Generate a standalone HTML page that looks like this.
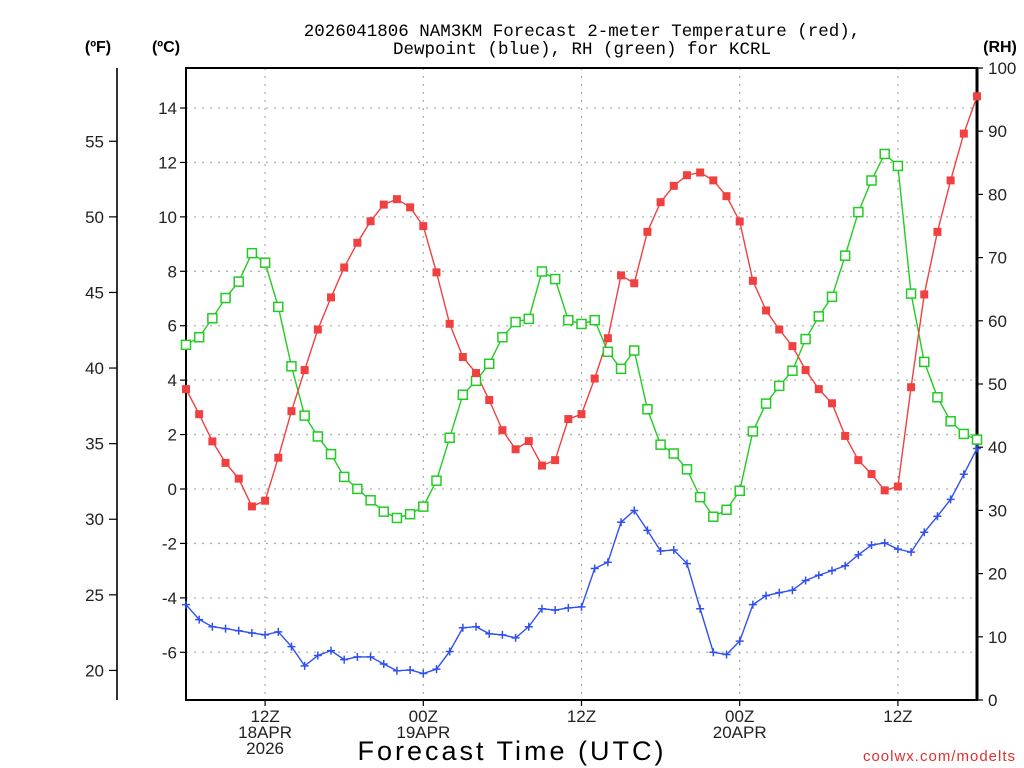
<!DOCTYPE html>
<html><head><meta charset="utf-8"><style>
html,body{margin:0;padding:0;background:#fff;}
svg{display:block;font-family:"Liberation Sans","DejaVu Sans",sans-serif;}
</style></head><body>
<svg id="chart" width="1024" height="768" viewBox="0 0 1024 768" xmlns="http://www.w3.org/2000/svg">
<rect width="1024" height="768" fill="#fff"/>
<text x="582" y="36" text-anchor="middle" font-size="17.5" font-family="Liberation Mono, monospace" fill="#000">2026041806 NAM3KM Forecast 2-meter Temperature (red),</text>
<text x="582" y="54" text-anchor="middle" font-size="17.5" font-family="Liberation Mono, monospace" fill="#000">Dewpoint (blue), RH (green) for KCRL</text>
<text x="98" y="52" text-anchor="middle" font-size="16" font-weight="bold">(ºF)</text>
<text x="166" y="52" text-anchor="middle" font-size="16" font-weight="bold">(ºC)</text>
<text x="1000" y="52" text-anchor="middle" font-size="16" font-weight="bold">(RH)</text>
<text x="512" y="760" text-anchor="middle" font-size="27" letter-spacing="3">Forecast Time (UTC)</text>
<text x="1016" y="761" text-anchor="end" font-size="15" fill="#e03030" letter-spacing="1">coolwx.com/modelts</text>
<g id="grid"></g>
<g id="axes"></g>
<g id="series"></g>
</svg>
<script>
const hours = 61;
const xLabels = [["12Z","18APR","2026"],["00Z","19APR"],["12Z"],["00Z","20APR"],["12Z"]];
const xLabelHours = [6,18,30,42,54];
const cTicks = [-6,-4,-2,0,2,4,6,8,10,12,14];
const fTicks = [20,25,30,35,40,45,50,55];
const rhTicks = [0,10,20,30,40,50,60,70,80,90,100];
const tempC = [3.67,2.75,1.75,0.96,0.38,-0.64,-0.43,1.15,2.86,4.37,5.86,7.04,8.14,9.05,9.84,10.45,10.65,10.35,9.66,7.96,6.07,4.85,4.26,3.27,2.16,1.46,1.76,0.86,1.06,2.57,2.75,4.06,5.54,7.85,7.56,9.45,10.54,11.14,11.53,11.63,11.34,10.76,9.83,7.65,6.56,5.86,5.25,4.37,3.67,3.15,1.95,1.06,0.55,-0.05,0.09,3.74,7.15,9.45,11.34,13.06,14.43];
const dewC = [-4.25,-4.80,-5.06,-5.13,-5.21,-5.29,-5.36,-5.25,-5.79,-6.50,-6.12,-5.94,-6.27,-6.17,-6.17,-6.43,-6.68,-6.65,-6.78,-6.62,-5.97,-5.10,-5.06,-5.32,-5.36,-5.47,-5.06,-4.40,-4.45,-4.37,-4.33,-2.92,-2.69,-1.22,-0.79,-1.52,-2.28,-2.24,-2.74,-4.40,-6.00,-6.08,-5.59,-4.25,-3.92,-3.81,-3.72,-3.36,-3.17,-3.00,-2.82,-2.42,-2.06,-1.98,-2.21,-2.32,-1.59,-1.00,-0.38,0.54,1.49];
const rh = [56.2,57.4,60.4,63.6,66.2,70.7,69.2,62.2,52.8,45.0,41.7,38.9,35.3,33.4,31.6,29.8,28.8,29.4,30.6,34.7,41.5,48.3,50.5,53.2,57.4,59.8,60.3,67.8,66.6,60.1,59.5,60.1,55.1,52.4,55.3,46.0,40.4,39.0,36.5,32.1,29.0,30.1,33.1,42.5,46.9,49.7,52.1,57.1,60.7,63.8,70.3,77.2,82.2,86.4,84.5,64.3,53.5,47.9,44.1,42.1,41.2];

const NS="http://www.w3.org/2000/svg";
const L=186,R=977,T=68,B=700;
const xS=h=>L+(R-L)*h/(hours-1);
const yC=c=>489-c*27.214;
const yF=f=>yC((f-32)*5/9);
const yRH=v=>B-(B-T)*v/100;
function mk(tag,attrs,parent){const e=document.createElementNS(NS,tag);for(const k in attrs)e.setAttribute(k,attrs[k]);parent.appendChild(e);return e;}
const grid=document.getElementById('grid'),axes=document.getElementById('axes'),ser=document.getElementById('series');

cTicks.forEach(c=>{const y=yC(c);
 const g=mk('line',{x1:L,x2:R,y1:y,y2:y,stroke:'#b0b0b0','stroke-width':1.3,'stroke-dasharray':'2,6'},grid);
 
 
 const t=mk('line',{x1:L-6,x2:L,y1:y,y2:y,stroke:'#000','stroke-width':1.2},axes);
 
 
 const tx=mk('text',{x:L-9,y:y+6,'text-anchor':'end','font-size':17,fill:'#222'},axes);tx.textContent=c;
 
 
});
xLabelHours.forEach((h,i)=>{const x=xS(h);
 const g=mk('line',{x1:x,x2:x,y1:T,y2:B,stroke:'#b0b0b0','stroke-width':1.3,'stroke-dasharray':'2,6'},grid);
 
 
 const t=mk('line',{x1:x,x2:x,y1:B,y2:B+6,stroke:'#000','stroke-width':1.2},axes);
 
 
 xLabels[i].forEach((s,j)=>{const tx=mk('text',{x:x,y:722+j*16,'text-anchor':'middle','font-size':17,fill:'#222'},axes);tx.textContent=s;
  
  });
});
fTicks.forEach(f=>{const y=yF(f);
 const t=mk('line',{x1:109,x2:117,y1:y,y2:y,stroke:'#000','stroke-width':1.2},axes);
 
 
 const tx=mk('text',{x:104,y:y+6,'text-anchor':'end','font-size':17,fill:'#222'},axes);tx.textContent=f;
 
 
});
rhTicks.forEach(v=>{const y=yRH(v);
 const t=mk('line',{x1:R,x2:R+6,y1:y,y2:y,stroke:'#000','stroke-width':1.2},axes);
 
 
 const tx=mk('text',{x:988,y:y+6,'font-size':17,fill:'#222'},axes);tx.textContent=v;
 
 
});
const fa=mk('line',{x1:117,x2:117,y1:68,y2:700,stroke:'#000','stroke-width':1.6},axes);


const fr=mk('rect',{x:L,y:T,width:R-L,height:B-T,fill:'none',stroke:'#000','stroke-width':2},axes);


const ra=mk('line',{x1:R,x2:R,y1:T,y2:B,stroke:'#000','stroke-width':3},axes);



function line(vals,yf,color,name){
 const p=mk('polyline',{points:vals.map((v,i)=>xS(i)+','+yf(v)).join(' '),fill:'none',stroke:color,'stroke-width':1.4},ser);
 
 
}
line(rh,yRH,'#22cc22','rh-line');
line(tempC,yC,'#f04040','temperature-line');
line(dewC,yC,'#3050f0','dewpoint-line');
rh.forEach((v,i)=>{const m=mk('rect',{x:xS(i)-4.5,y:yRH(v)-4.5,width:9,height:9,fill:'#fff',stroke:'#22cc22','stroke-width':1.5},ser);
 
 });
tempC.forEach((v,i)=>{const m=mk('rect',{x:xS(i)-4,y:yC(v)-4,width:8,height:8,fill:'#f04040'},ser);
 
 });
dewC.forEach((v,i)=>{const x=xS(i),y=yC(v);
 const m=mk('path',{d:`M${x-4},${y}H${x+4}M${x},${y-4}V${y+4}`,stroke:'#3050f0','stroke-width':1.5},ser);
 
 });
</script>
</body></html>
